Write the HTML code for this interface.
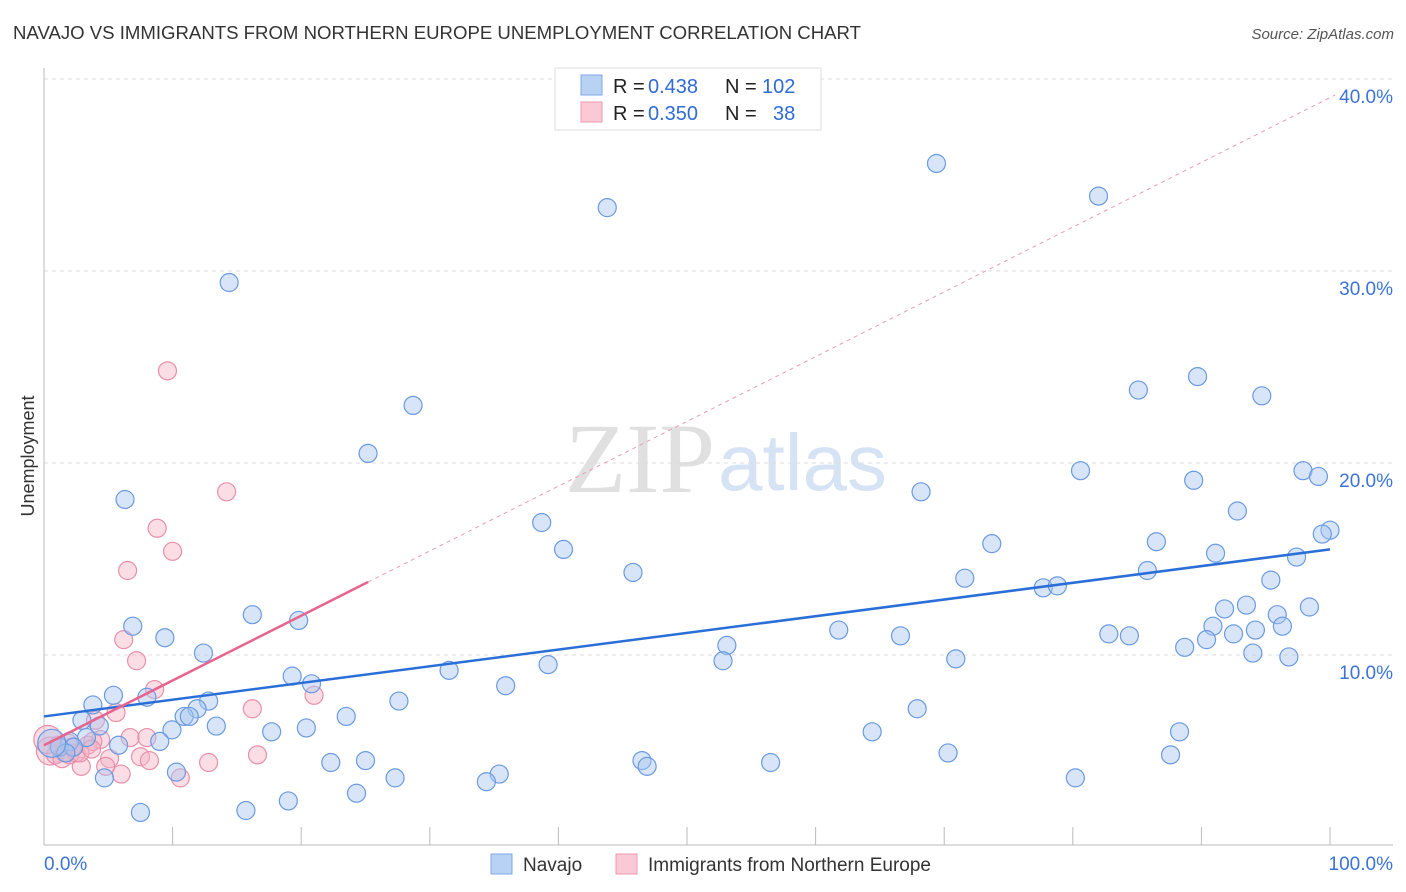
<!DOCTYPE html>
<html><head><meta charset="utf-8"><style>
body{margin:0;background:#fff;font-family:"Liberation Sans",sans-serif}
svg{display:block}
</style></head><body>
<svg id="chart" width="1406" height="892">
<text x="13" y="39" font-size="18" fill="#333" textLength="848" lengthAdjust="spacingAndGlyphs">NAVAJO VS IMMIGRANTS FROM NORTHERN EUROPE UNEMPLOYMENT CORRELATION CHART</text>
<text x="1394" y="39" font-size="15" fill="#555" font-style="italic" text-anchor="end">Source: ZipAtlas.com</text>
<text x="715" y="492" font-size="100" fill="#e0e0e0" text-anchor="end" font-family="Liberation Serif">ZIP</text>
<text x="718" y="490" font-size="80" fill="#d6e3f5">atlas</text>
<text transform="translate(34,456) rotate(-90)" font-size="18" fill="#333" text-anchor="middle">Unemployment</text>
<g id="grid"></g><g id="marks"></g>
<g>
<rect x="555" y="68" width="266" height="62" fill="#fff" stroke="#ddd"/>
<rect x="581" y="75" width="21" height="20" fill="#b8d2f4" stroke="#7fa8e6"/>
<rect x="581" y="102" width="21" height="20" fill="#fbc8d6" stroke="#ee9ab3"/>
<text y="93" font-size="20" fill="#222"><tspan x="613">R =</tspan><tspan x="648" fill="#2f6bd6">0.438</tspan><tspan x="725">N =</tspan><tspan x="762" fill="#2f6bd6">102</tspan></text>
<text y="120" font-size="20" fill="#222"><tspan x="613">R =</tspan><tspan x="648" fill="#2f6bd6">0.350</tspan><tspan x="725">N =</tspan><tspan x="773" fill="#2f6bd6">38</tspan></text>
</g>
<g>
<rect x="491" y="854" width="21" height="20" fill="#b8d2f4" stroke="#7fa8e6"/>
<text x="523" y="871" font-size="19" fill="#333">Navajo</text>
<rect x="616" y="854" width="21" height="20" fill="#fbc8d6" stroke="#ee9ab3"/>
<text x="648" y="871" font-size="19" fill="#333">Immigrants from Northern Europe</text>
</g>
</svg>
<script>
const yTicks=[10,20,30,40];
const yTickLabels=["10.0%","20.0%","30.0%","40.0%"];
const xTickValues=[10,20,30,40,50,60,70,80,90,100];
const navajoX=[14.4,43.8,69.4,82.0,28.7,25.2,6.3,38.7,40.4,45.8,85.1,89.7,94.7,80.6,89.4,68.2,92.8,97.9,99.1,100,99.4,86.5,73.7,91.1,97.4,85.8,71.6,95.4,77.7,78.8,93.5,98.4,91.8,95.9,90.9,96.3,92.5,94.2,82.8,84.4,90.4,88.7,94.0,96.8,61.8,66.6,53.1,52.8,70.9,39.2,31.5,35.9,16.2,19.8,6.9,9.4,12.4,19.3,20.8,27.6,67.9,88.3,64.4,70.3,87.6,80.2,56.5,46.5,46.9,35.4,34.4,27.3,25.0,22.3,24.3,19.0,15.7,7.5,10.3,4.7,23.5,20.4,17.7,13.4,12.8,11.9,10.9,11.3,9.95,9.0,8.0,5.4,3.8,2.95,4.3,5.8,3.3,2.0,1.2,2.3,1.7,0.6];
const navajoY=[29.4,33.3,35.6,33.9,23.0,20.5,18.1,16.9,15.5,14.3,23.8,24.5,23.5,19.6,19.1,18.5,17.5,19.6,19.3,16.5,16.3,15.9,15.8,15.3,15.1,14.4,14.0,13.9,13.5,13.6,12.6,12.5,12.4,12.1,11.5,11.5,11.1,11.3,11.1,11.0,10.8,10.4,10.1,9.9,11.3,11.0,10.5,9.7,9.8,9.5,9.2,8.4,12.1,11.8,11.5,10.9,10.1,8.9,8.5,7.6,7.2,6.0,6.0,4.9,4.8,3.6,4.4,4.5,4.2,3.8,3.4,3.6,4.5,4.4,2.8,2.4,1.9,1.8,3.9,3.6,6.8,6.2,6.0,6.3,7.6,7.2,6.8,6.8,6.1,5.5,7.8,7.9,7.4,6.6,6.3,5.3,5.7,5.5,5.2,5.2,4.9,5.4];
const immX=[9.6,14.2,8.8,10.0,6.5,6.2,7.2,8.6,21.0,16.2,5.6,4.0,6.7,8.0,4.4,3.4,3.8,16.6,7.5,8.2,5.1,12.8,4.8,2.9,6.0,10.6,0.5,0.9,1.6,2.0,2.5,1.4,2.2,1.1,2.8,3.7,1.9,0.3];
const immY=[24.8,18.5,16.6,15.4,14.4,10.8,9.7,8.2,7.9,7.2,7.0,6.6,5.7,5.7,5.6,5.3,5.5,4.8,4.7,4.5,4.6,4.4,4.2,4.2,3.8,3.6,5.0,4.8,4.9,4.8,4.9,4.6,5.2,5.3,4.9,5.1,5.4,5.6];
const navajoTrend=[6.8,15.5];
const immTrend=[5.3,13.8,25.2];
const X0=44,X1=1330,Y0=847,PY=19.2;
const sx=v=>X0+(X1-X0)*v/100, sy=v=>Y0-v*PY;
const NS="http://www.w3.org/2000/svg";
function mk(t,a,p){const e=document.createElementNS(NS,t);for(const k in a)e.setAttribute(k,a[k]);p.appendChild(e);return e;}
const grid=document.getElementById('grid'),marks=document.getElementById('marks');
yTicks.forEach((t,i)=>{
 const l=mk('line',{x1:X0,x2:1393,y1:sy(t),y2:sy(t),stroke:'#ddd','stroke-dasharray':'4,4'},grid);
 
 
 const tx=mk('text',{x:1393,y:sy(t)+24,'font-size':19,fill:'#3b73d6','text-anchor':'end'},grid);
 tx.textContent=yTickLabels[i];
 
 
});
const ax=mk('line',{x1:X0,x2:X0,y1:68,y2:845,stroke:'#bbb'},grid);


const bx=mk('line',{x1:X0,x2:1393,y1:845,y2:845,stroke:'#bbb'},grid);


xTickValues.forEach(v=>{
 const t=mk('line',{x1:sx(v),x2:sx(v),y1:827,y2:845,stroke:'#bbb'},grid);
 
 
});
const xl0=mk('text',{x:44,y:870,'font-size':19,fill:'#3b73d6'},grid);xl0.textContent='0.0%';


const xl1=mk('text',{x:1393,y:870,'font-size':19,fill:'#3b73d6','text-anchor':'end'},grid);xl1.textContent='100.0%';


const slope=(immTrend[1]-immTrend[0])/immTrend[2];
const pd=mk('line',{x1:sx(immTrend[2]),y1:sy(immTrend[1]),x2:sx(100.4),y2:sy(immTrend[0]+slope*100.4),stroke:'#ec9bb4','stroke-dasharray':'4,4','stroke-width':1},marks);


function pts(X,Y,fill,stroke,name){
 X.forEach((x,i)=>{
  const big=x<0.8;
  const c=mk('circle',{cx:sx(x),cy:sy(Y[i]),r:big?14:9,fill:fill,'fill-opacity':0.45,stroke:stroke,'stroke-width':1.2},marks);
  
  
 });
}
pts(immX,immY,'#f5b3c6','#e890aa','immigrants-point');
pts(navajoX,navajoY,'#a8c6f0','#6a9ae0','navajo-point');
const bt=mk('line',{x1:sx(0),y1:sy(navajoTrend[0]),x2:sx(100),y2:sy(navajoTrend[1]),stroke:'#2a6fd8','stroke-width':2.5},marks);


const pt=mk('line',{x1:sx(0),y1:sy(immTrend[0]),x2:sx(immTrend[2]),y2:sy(immTrend[1]),stroke:'#e8648e','stroke-width':2.5},marks);


</script>
</body></html>
